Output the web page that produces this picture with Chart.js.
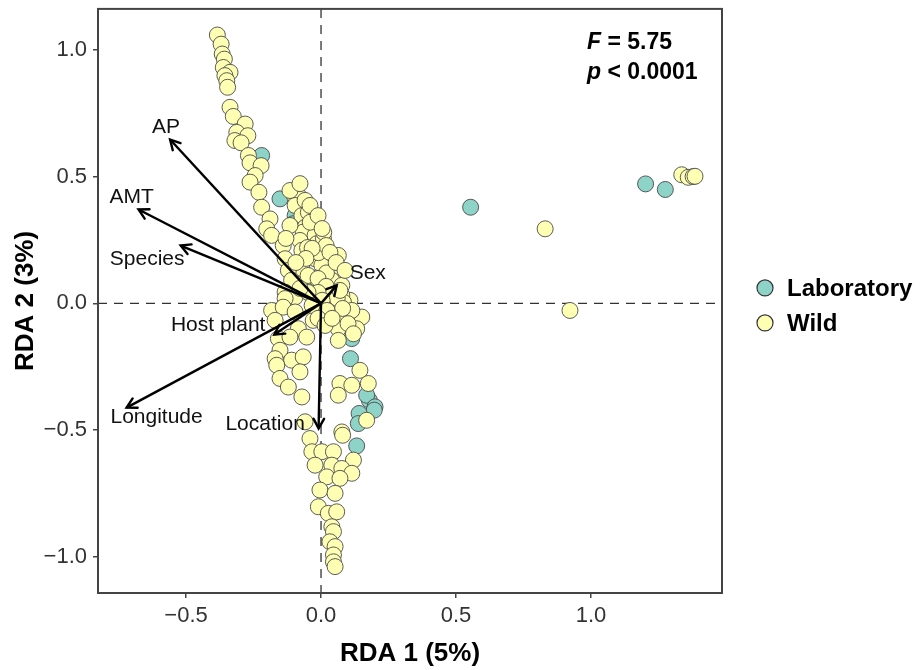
<!DOCTYPE html>
<html>
<head>
<meta charset="utf-8">
<script src="https://cdn.jsdelivr.net/npm/chart.js@4"></script>
<style>
  body { margin: 0; background: #fff; }
  #wrap { width: 921px; height: 670px; position: relative; }
</style>
</head>
<body>
<div id="wrap"><canvas id="rdaChart"></canvas></div>
<script>
// RDA site scores
const wildX = [-0.384,-0.370,-0.366,-0.358,-0.362,-0.337,-0.356,-0.349,-0.346,-0.337,-0.325,-0.281,-0.312,-0.271,-0.319,-0.296,-0.269,-0.263,-0.222,-0.244,-0.263,-0.230,-0.103,-0.084,-0.220,-0.096,-0.189,-0.071,-0.047,-0.059,-0.201,-0.029,-0.183,-0.066,-0.022,-0.140,-0.078,-0.016,-0.071,0.009,0.064,-0.022,-0.133,0.015,0.003,0.040,-0.071,-0.121,-0.041,0.040,0.077,-0.109,-0.133,-0.096,0.052,0.107,0.077,-0.133,-0.183,-0.140,-0.096,-0.029,0.033,0.052,0.083,0.095,0.151,0.114,0.077,-0.170,0.132,0.064,-0.084,-0.158,-0.115,-0.053,0.064,-0.152,-0.170,-0.109,-0.066,-0.164,-0.078,-0.152,0.144,-0.121,0.070,0.114,0.175,0.064,-0.071,0.169,0.077,-0.059,-0.041,0.080,-0.034,0.003,0.046,0.120,-0.022,0.040,0.077,0.114,0.021,0.070,-0.004,0.052,-0.010,0.027,0.058,0.040,0.046,0.033,0.052,0.046,0.046,0.052,-0.040,-0.010,0.020,0.030,-0.020,0.010,-0.050,0.060,0.080,-0.010,0.100,0.120,-0.115,-0.078,
  -0.059,-0.041,-0.011,0.004,0.019,0.033,0.056,-0.033,-0.056,-0.093,-0.048,-0.011,0.019,0.070,-0.011,-0.048,-0.078,0.004,-0.033,0.022,0.089,-0.115,-0.130,-0.011,0.015,0.041,
  0.830,0.922,1.336,1.360,1.378,1.385];
const wildY = [1.058,1.022,0.983,0.963,0.930,0.911,0.898,0.878,0.852,0.773,0.737,0.707,0.674,0.661,0.642,0.633,0.583,0.554,0.543,0.504,0.478,0.438,0.432,0.425,0.379,0.386,0.333,0.346,0.359,0.300,0.294,0.307,0.268,0.281,0.268,0.228,0.248,0.235,0.209,0.255,0.189,0.176,0.176,0.176,0.150,0.123,0.137,0.130,0.078,0.091,0.071,0.091,0.044,0.025,0.025,0.012,0.031,0.019,-0.028,-0.015,-0.034,-0.067,-0.034,-0.001,0.005,-0.041,-0.054,-0.028,-0.074,-0.067,-0.100,-0.100,-0.100,-0.139,-0.133,-0.133,-0.146,-0.185,-0.218,-0.224,-0.211,-0.244,-0.270,-0.296,-0.264,-0.330,-0.316,-0.323,-0.316,-0.362,-0.369,-0.461,-0.507,-0.467,-0.533,-0.520,-0.585,-0.585,-0.585,-0.618,-0.638,-0.638,-0.651,-0.670,-0.684,-0.690,-0.736,-0.749,-0.802,-0.828,-0.822,-0.881,-0.900,-0.940,-0.959,-0.992,-1.019,-1.038,0.320,0.200,0.120,0.050,0.100,0.280,0.220,0.020,-0.020,0.020,-0.080,-0.120,0.445,0.472,
  0.406,0.386,0.346,0.295,0.228,0.201,0.161,0.217,0.177,0.161,0.110,0.098,0.067,0.051,0.043,0.043,0.059,0.012,-0.008,-0.028,0.130,0.307,0.256,-0.059,-0.087,-0.059,
  0.294,-0.028,0.507,0.497,0.500,0.501];
const labX = [-0.220,-0.152,-0.096,-0.103,0.114,0.109,0.179,0.169,0.200,0.197,0.141,0.138,0.132,0.554,1.202,1.275];
const labY = [0.583,0.412,0.346,0.314,-0.139,-0.218,-0.382,-0.362,-0.408,-0.421,-0.434,-0.474,-0.562,0.379,0.471,0.449];

// environmental vectors (biplot arrows) and where their names sit
const vecNames = ['AP','AMT','Species','Sex','Host plant','Longitude','Location'];
const vecX = [-0.559,-0.676,-0.520,0.058,-0.173,-0.720,-0.009];
const vecY = [0.646,0.370,0.228,0.071,-0.123,-0.411,-0.493];
const vecLabelX = [-0.574,-0.701,-0.644,0.173,-0.381,-0.609,-0.207];
const vecLabelY = [0.693,0.418,0.173,0.119,-0.087,-0.450,-0.476];

const xTicks = [-0.5, 0, 0.5, 1.0];
const xTickLabels = ['\u22120.5','0.0','0.5','1.0'];
const yTicks = [-1.0, -0.5, 0, 0.5, 1.0];
const yTickLabels = ['\u22121.0','\u22120.5','0.0','0.5','1.0'];

const groups = ['Laboratory','Wild'];
const groupColors = ['#8DD3C7','#FFFFB3'];
const statF = '5.75';
const statP = '0.0001';

const FONT = "'Liberation Sans', Arial, sans-serif";

function zip(xs, ys){
  return xs.map((x, i) => ({x: x, y: ys[i]}));
}

const arrowSets = vecNames.map((name, i) => ({
  label: name,
  data: [{x: 0, y: 0}, {x: vecX[i], y: vecY[i]}],
  showLine: true,
  borderColor: '#000',
  borderWidth: 2.4,
  pointRadius: 0,
  order: 0
}));

// zero lines, frame, arrowheads, vector names, stats, legend
const extras = {
  id: 'extras',
  beforeDatasetsDraw(chart){
    const {ctx, chartArea: a, scales: {x, y}} = chart;
    ctx.save();
    ctx.strokeStyle = '#333';
    ctx.lineWidth = 1.3;
    ctx.setLineDash([9, 7]);
    const x0 = x.getPixelForValue(0), y0 = y.getPixelForValue(0);
    ctx.beginPath();
    ctx.moveTo(x0, a.top); ctx.lineTo(x0, a.bottom);
    ctx.moveTo(a.left, y0); ctx.lineTo(a.right, y0);
    ctx.stroke();
    ctx.restore();
  },
  afterDatasetsDraw(chart){
    const {ctx, chartArea: a, scales: {x, y}} = chart;
    ctx.save();
    // arrowheads
    ctx.strokeStyle = '#000';
    ctx.lineWidth = 2.4;
    ctx.lineCap = 'round';
    const ox = x.getPixelForValue(0), oy = y.getPixelForValue(0);
    vecNames.forEach((n, i) => {
      const tx = x.getPixelForValue(vecX[i]), ty = y.getPixelForValue(vecY[i]);
      const ang = Math.atan2(ty - oy, tx - ox);
      const len = 11;
      ctx.beginPath();
      ctx.moveTo(tx - len*Math.cos(ang - 0.5), ty - len*Math.sin(ang - 0.5));
      ctx.lineTo(tx, ty);
      ctx.lineTo(tx - len*Math.cos(ang + 0.5), ty - len*Math.sin(ang + 0.5));
      ctx.stroke();
    });
    // vector names
    ctx.fillStyle = '#111';
    ctx.font = '21px ' + FONT;
    ctx.textAlign = 'center';
    ctx.textBaseline = 'middle';
    vecNames.forEach((n, i) => {
      ctx.fillText(n, x.getPixelForValue(vecLabelX[i]), y.getPixelForValue(vecLabelY[i]));
    });
    // frame
    ctx.strokeStyle = '#444';
    ctx.lineWidth = 2;
    ctx.strokeRect(a.left, a.top, a.right - a.left, a.bottom - a.top);
    // statistics
    ctx.textAlign = 'left';
    ctx.textBaseline = 'middle';
    ctx.fillStyle = '#000';
    const sx = a.right - 135;
    ctx.font = 'italic bold 23px ' + FONT;
    ctx.fillText('F', sx, a.top + 34);
    let w = ctx.measureText('F').width;
    ctx.font = 'bold 23px ' + FONT;
    ctx.fillText(' = ' + statF, sx + w, a.top + 34);
    ctx.font = 'italic bold 23px ' + FONT;
    ctx.fillText('p', sx, a.top + 64);
    w = ctx.measureText('p').width;
    ctx.font = 'bold 23px ' + FONT;
    ctx.fillText(' < ' + statP, sx + w, a.top + 64);
    // legend
    const lx = a.right + 43;
    const ly = (a.top + a.bottom) / 2 - 13;
    groups.forEach((g, i) => {
      const cy = ly + i * 35;
      ctx.beginPath();
      ctx.arc(lx, cy, 8, 0, Math.PI * 2);
      ctx.fillStyle = groupColors[i];
      ctx.fill();
      ctx.strokeStyle = '#333';
      ctx.lineWidth = 1.2;
      ctx.stroke();
      ctx.fillStyle = '#000';
      ctx.font = 'bold 24px ' + FONT;
      ctx.fillText(g, lx + 22, cy + 1);
    });
    ctx.restore();
  }
};

window.addEventListener('load', () => {
  const ctx = document.getElementById('rdaChart');
  new Chart(ctx, {
    type: 'scatter',
    data: {
      datasets: [
        ...arrowSets,
        {
          label: groups[1],
          data: zip(wildX, wildY),
          backgroundColor: groupColors[1],
          borderColor: '#4a4a4a',
          borderWidth: 0.9,
          pointRadius: 8,
          order: 1
        },
        {
          label: groups[0],
          data: zip(labX, labY),
          backgroundColor: groupColors[0],
          borderColor: '#4a4a4a',
          borderWidth: 0.9,
          pointRadius: 8,
          order: 2
        }
      ]
    },
    options: {
      responsive: true,
      maintainAspectRatio: false,
      animation: false,
      layout: { padding: { top: 8, right: 199, bottom: 0, left: 0 } },
      plugins: {
        legend: { display: false },
        tooltip: { enabled: false }
      },
      scales: {
        x: {
          type: 'linear',
          min: -0.826,
          max: 1.485,
          afterBuildTicks: s => { s.ticks = xTicks.map(v => ({value: v})); },
          afterFit: s => { s.height = 77; s.paddingLeft = 0; s.paddingRight = 0; },
          grid: { drawOnChartArea: false, drawTicks: true, tickLength: 5, color: '#444', lineWidth: 1.5 },
          border: { display: true, color: '#444', width: 2 },
          ticks: {
            padding: 5,
            color: '#333',
            font: { family: FONT, size: 22 },
            callback: (v, i) => xTickLabels[i]
          },
          title: {
            display: true,
            text: 'RDA 1 (5%)',
            color: '#000',
            font: { family: FONT, size: 26, weight: 'bold' },
            padding: { top: 0, bottom: 1 }
          }
        },
        y: {
          type: 'linear',
          min: -1.142,
          max: 1.161,
          afterBuildTicks: s => { s.ticks = yTicks.map(v => ({value: v})); },
          afterFit: s => { s.width = 98; s.paddingTop = 0; s.paddingBottom = 0; },
          grid: { drawOnChartArea: false, drawTicks: true, tickLength: 5, color: '#444', lineWidth: 1.5 },
          border: { display: true, color: '#444', width: 2 },
          ticks: {
            padding: 6,
            color: '#333',
            font: { family: FONT, size: 22 },
            callback: (v, i) => yTickLabels[i]
          },
          title: {
            display: true,
            text: 'RDA 2 (3%)',
            color: '#000',
            font: { family: FONT, size: 26, weight: 'bold' },
            padding: { top: 10, bottom: 0 }
          }
        }
      }
    },
    plugins: [extras]
  });
});
</script>
</body>
</html>
